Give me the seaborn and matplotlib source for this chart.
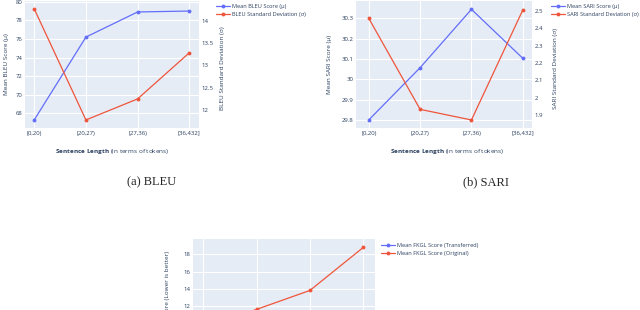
import numpy as np
import pandas as pd
import matplotlib
matplotlib.use("Agg")
import matplotlib.pyplot as plt
import seaborn as sns

# %% data
bins = ["[0,20)", "[20,27)", "[27,36)", "[36,432]"]

bleu_mean = [67.3, 76.2, 78.9, 79.0]
bleu_std = [14.26, 11.78, 12.25, 13.28]

sari_mean = [29.80, 30.057, 30.344, 30.103]
sari_std = [2.456, 1.934, 1.873, 2.504]

fkgl_transferred = [7.6, 8.9, 9.8, 10.6]
fkgl_original = [9.4, 11.6, 13.8, 18.8]

# %% style (plotly-like)
sns.set_style("white")
plt.rcParams["font.family"] = ["Open Sans", "DejaVu Sans"]
plt.rcParams["mathtext.fontset"] = "custom"
plt.rcParams["mathtext.bf"] = "Open Sans:bold"
plt.rcParams["mathtext.rm"] = "Open Sans"

BG = "#E5ECF6"
BLUE = "#636EFA"
RED = "#EF553B"
TXT = "#2a3f5f"
W, H = 640, 310
TICK = 4.3
TITLE = 4.6
LEG = 4.1


def px_axes(fig, left, top, right, bottom):
    return fig.add_axes([left / W, 1 - bottom / H, (right - left) / W, (bottom - top) / H])


def style_axis(ax, grid=True):
    ax.set_facecolor(BG if grid else "none")
    for s in ax.spines.values():
        s.set_visible(False)
    ax.tick_params(length=0, labelsize=TICK, labelcolor=TXT, pad=2)
    if grid:
        ax.grid(True, color="white", linewidth=0.8)
        ax.set_axisbelow(True)


def add_legend(fig, handles, labels, x, y):
    fig.legend(handles, labels, loc="upper left",
               bbox_to_anchor=(x / W, 1 - y / H), frameon=False,
               fontsize=LEG, labelcolor=TXT, handlelength=2.4, handletextpad=0.35,
               labelspacing=0.6, borderaxespad=0, borderpad=0)


def dual_panel(fig, box, mean, std, names, ylim1, ylim2, yt1, yt1l, yt2, yt2l,
               xlim, leg_xy, xlab_x, ylab_x):
    ax = px_axes(fig, *box)
    style_axis(ax)
    df = pd.DataFrame({"bin": bins, "mean": mean, "std": std})
    sns.lineplot(data=df, x="bin", y="mean", ax=ax, color=BLUE, marker="o",
                 markersize=2.8, markeredgewidth=0, linewidth=0.9, sort=False,
                 label=names[0], legend=False)
    ax2 = ax.twinx()
    style_axis(ax2, grid=False)
    sns.lineplot(data=df, x="bin", y="std", ax=ax2, color=RED, marker="o",
                 markersize=2.8, markeredgewidth=0, linewidth=0.9, sort=False,
                 label=names[1], legend=False)
    ax.set_xlim(*xlim)
    ax.set_ylim(*ylim1)
    ax2.set_ylim(*ylim2)
    ax.set_yticks(yt1, yt1l)
    ax2.set_yticks(yt2, yt2l)
    ax.set_xlabel(r"$\bf{Sentence\ Length}$ (in terms of tokens)", fontsize=TITLE, color=TXT)
    ax.xaxis.set_label_coords(xlab_x, -0.15)
    ax.set_ylabel(names[0], fontsize=TITLE, color=TXT)
    ax2.set_ylabel(names[1], fontsize=TITLE, color=TXT)
    ax.yaxis.set_label_coords(ylab_x, 0.5)
    ax2.yaxis.set_label_coords(1.12, 0.47)
    h1, l1 = ax.get_legend_handles_labels()
    h2, l2 = ax2.get_legend_handles_labels()
    add_legend(fig, h1 + h2, l1 + l2, *leg_xy)
    return ax


fig = plt.figure(figsize=(6.4, 3.1), dpi=100)

# %% (a) BLEU
dual_panel(fig, (25, 1, 199, 128), bleu_mean, bleu_std,
           ["Mean BLEU Score (μ)", "BLEU Standard Deviation (σ)"],
           (66.42, 80.08), (11.6, 14.44),
           [68, 70, 72, 74, 76, 78, 80], ["68", "70", "72", "74", "76", "78", "80"],
           [12, 12.5, 13, 13.5, 14], ["12", "12.5", "13", "13.5", "14"],
           (-0.18, 3.19), (216, 4), 0.5, -0.092)

# %% (b) SARI
dual_panel(fig, (356, 1, 532, 128), sari_mean, sari_std,
           ["Mean SARI Score (μ)", "SARI Standard Deviation (σ)"],
           (29.76, 30.385), (1.827, 2.556),
           [29.8, 29.9, 30.0, 30.1, 30.2, 30.3], ["29.8", "29.9", "30", "30.1", "30.2", "30.3"],
           [1.9, 2.0, 2.1, 2.2, 2.3, 2.4, 2.5], ["1.9", "2", "2.1", "2.2", "2.3", "2.4", "2.5"],
           (-0.25, 3.18), (551, 4), 0.52, -0.136)

# captions
fig.text(152 / W, 1 - 182 / H, "(a) BLEU", ha="center", va="center",
         family="Liberation Serif", fontsize=9)
fig.text(486 / W, 1 - 182 / H, "(b) SARI", ha="center", va="center",
         family="Liberation Serif", fontsize=9)

# %% (c) FKGL, cut off by the page edge
ax3 = px_axes(fig, 193, 239, 375, 355)
style_axis(ax3)
fk = pd.DataFrame({"bin": bins * 2,
                   "score": fkgl_transferred + fkgl_original,
                   "kind": ["Mean FKGL Score (Transferred)"] * 4 + ["Mean FKGL Score (Original)"] * 4})
sns.lineplot(data=fk, x="bin", y="score", hue="kind", ax=ax3, palette=[BLUE, RED],
             marker="o", markersize=2.8, markeredgewidth=0, linewidth=0.9, sort=False)
ax3.set_xlim(-0.19, 3.22)
ax3.set_ylim(6.3, 19.78)
ax3.set_yticks([12, 14, 16, 18], ["12", "14", "16", "18"])
ax3.tick_params(axis="x", labelbottom=False)
ax3.set_xlabel("")
ax3.set_ylabel("Mean FKGL Score (Lower is better)", fontsize=TITLE, color=TXT)
ax3.yaxis.set_label_coords(-0.126, 0.457)
h, l = ax3.get_legend_handles_labels()
ax3.get_legend().remove()
add_legend(fig, h, l, 381, 243)

fig.savefig("out.png", dpi=100)
